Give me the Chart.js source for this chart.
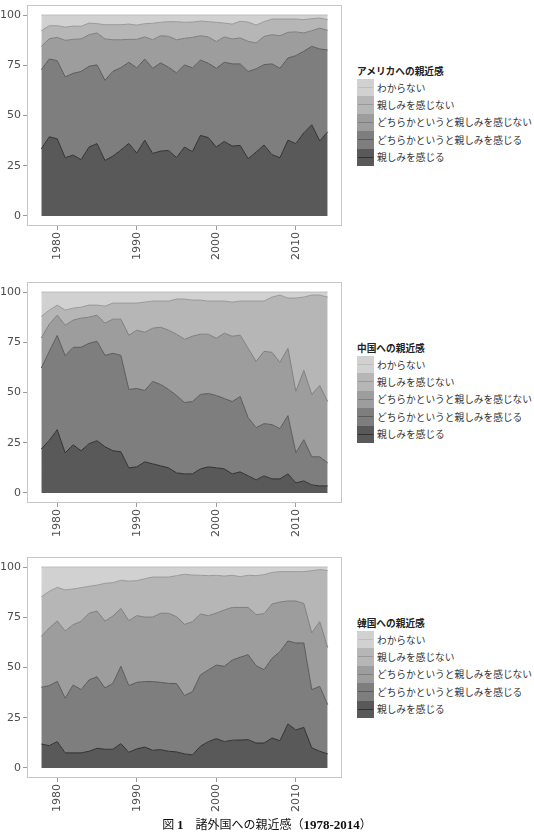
<!DOCTYPE html>
<html lang="ja">
<head>
<meta charset="utf-8">
<title>諸外国への親近感</title>
<script src="https://cdn.jsdelivr.net/npm/chart.js@4.4.1/dist/chart.umd.min.js"></script>
<style>
  html, body { margin: 0; padding: 0; background: #fff; }
  #page { position: relative; width: 534px; height: 838px; overflow: hidden; }
  canvas { position: absolute; left: 0; }
  .legend {
    position: absolute; left: 357px;
    font-family: "Noto Sans CJK JP", sans-serif; font-size: 9.7px; color: #333;
  }
  .legend .lt { font-weight: bold; height: 14px; line-height: 14px; margin-bottom: 1px; color: #222; white-space: nowrap; }
  .legend .li { height: 17.4px; display: flex; align-items: center; white-space: nowrap; }
  .legend .key { position: relative; width: 17px; height: 17.4px; margin-right: 3px; flex: none; }
  .legend .key i { position: absolute; left: 1px; right: 1px; top: 8px; height: 1px; }
  #caption {
    position: absolute; top: 815px; left: 0; width: 534px; text-align: center;
    font-family: "Noto Sans CJK JP", sans-serif; font-size: 12px; line-height: 18px; color: #111;
  }
  #caption b { font-family: "Liberation Serif", serif; font-weight: bold; font-size: 13px; }
</style>
</head>
<body>
<div id="page">
  <canvas id="usa" width="346" height="266" style="top:0px"></canvas>
  <div class="legend" id="usaLegend" style="top:64px"></div>
  <canvas id="china" width="346" height="266" style="top:277px"></canvas>
  <div class="legend" id="chinaLegend" style="top:341px"></div>
  <canvas id="korea" width="346" height="266" style="top:552px"></canvas>
  <div class="legend" id="koreaLegend" style="top:616px"></div>
  <div id="caption">図 <b>1</b>　諸外国への親近感（<b>1978-2014</b>）</div>
</div>
<script>
// survey years
const years = [1978, 1979, 1980, 1981, 1982, 1983, 1984, 1985, 1986, 1987,
               1988, 1989, 1990, 1991, 1992, 1993, 1994, 1995, 1996, 1997,
               1998, 1999, 2000, 2001, 2002, 2003, 2004, 2005, 2006, 2007,
               2008, 2009, 2010, 2011, 2012, 2013, 2014];

// stacking order, bottom to top
const categories = ['親しみを感じる', 'どちらかというと親しみを感じる',
                    'どちらかというと親しみを感じない', '親しみを感じない', 'わからない'];

const xTicks = [1980, 1990, 2000, 2010];
const yTicks = [0, 25, 50, 75, 100];

// アメリカ (%)
const usaClose       = [33.4,39.4,38.4,29.0,30.3,28.0,34.3,36.0,27.6,29.8, 32.8,36.1,31.3,37.7,31.1,32.3,32.6,29.1,34.3,32.0, 40.1,39.0,34.3,37.1,34.8,35.1,28.5,31.8,35.3,30.5, 29.0,37.7,36.0,41.4,45.4,37.3,41.9];
const usaRatherClose = [39.4,38.7,38.9,40.2,40.7,43.9,40.2,39.2,39.9,42.2, 41.0,40.4,42.4,40.4,42.4,43.9,41.4,42.1,40.9,41.7, 37.5,37.0,39.2,39.4,40.9,40.6,43.4,41.4,40.0,45.2, 44.5,40.9,43.8,40.6,39.0,45.8,40.7];
const usaRatherNot   = [11.6,10.1,11.6,18.2,16.9,16.2,15.7,15.9,20.6,15.7, 13.9,11.4,14.2,11.0,14.2,13.5,15.4,16.5,13.2,15.2, 12.1,13.1,13.3,12.6,12.4,12.9,15.0,12.9,14.1,14.5, 16.2,12.8,11.8,9.1,7.8,10.4,9.8];
const usaNot         = [7.8,6.5,5.8,6.6,6.6,6.3,5.8,4.6,7.1,7.5, 7.5,7.6,7.1,6.6,8.2,6.7,7.3,9.0,8.0,7.6, 7.3,7.6,9.6,6.9,7.4,8.3,9.6,8.9,7.3,7.8, 8.3,6.6,6.4,6.6,6.0,5.0,5.3];
const usaDontKnow    = [7.8,5.3,5.3,6.0,5.5,5.6,4.0,4.3,4.8,4.8, 4.8,4.5,5.0,4.3,4.1,3.6,3.3,3.3,3.6,3.5, 3.0,3.3,3.6,4.0,4.5,3.1,3.5,5.0,3.3,2.0, 2.0,2.0,2.0,2.3,1.8,1.5,2.3];

// 中国 (%)
const chinaClose       = [21.9,26.2,31.5,19.9,24.0,21.0,24.5,26.0,23.0,21.0, 20.5,12.5,13.0,15.5,14.5,13.5,12.5,10.0,9.5,9.5, 12.0,13.0,12.5,12.0,9.5,10.5,8.5,6.5,8.5,7.0, 7.0,9.5,5.0,6.0,4.0,3.5,3.5];
const chinaRatherClose = [40.3,44.3,46.9,48.4,48.5,51.5,50.0,49.5,45.5,48.5, 48.0,39.0,39.0,35.5,41.0,40.5,39.0,38.5,35.5,36.0, 37.0,36.5,36.0,35.0,36.0,37.5,29.0,26.0,26.0,27.0, 25.0,29.0,15.0,20.5,14.0,14.5,11.5];
const chinaRatherNot   = [14.9,13.5,10.1,15.2,13.5,14.5,13.0,13.0,16.0,17.0, 18.0,27.0,29.0,29.0,26.5,28.5,29.5,30.5,31.5,32.5, 30.0,29.5,28.5,32.5,32.5,30.5,34.5,33.0,36.0,36.0, 33.0,33.5,30.5,34.5,31.0,35.5,30.5];
const chinaNot         = [10.8,7.0,5.0,7.5,6.0,5.5,6.0,5.0,8.5,8.0, 8.0,16.0,13.5,15.0,13.5,13.0,14.5,17.5,20.0,18.0, 17.0,16.5,18.5,16.0,17.0,17.0,23.5,30.0,25.0,27.5, 33.5,25.0,46.5,36.5,49.5,45.0,52.0];
const chinaDontKnow    = [12.1,9.0,6.5,9.0,8.0,7.5,6.5,6.5,7.0,5.5, 5.5,5.5,5.5,5.0,4.5,4.5,4.5,3.5,3.5,4.0, 4.0,4.5,4.5,4.5,5.0,4.5,4.5,4.5,4.5,2.5, 1.5,3.0,3.0,2.5,1.5,1.5,2.5];

// 韓国 (%)
const koreaClose       = [11.9,11.1,13.1,7.5,7.5,7.5,8.3,9.8,9.3,9.3, 12.1,7.8,9.5,10.4,8.8,9.1,8.3,8.0,7.0,6.5, 10.8,13.1,14.6,13.1,13.8,13.9,14.1,12.4,12.4,14.9, 13.6,21.9,18.9,20.2,10.0,8.3,7.0];
const koreaRatherClose = [28.2,29.9,30.0,27.2,33.8,31.5,35.5,35.6,30.5,32.8, 38.5,33.2,33.1,32.6,34.2,33.5,33.8,34.0,29.0,31.5, 35.5,35.7,36.6,37.5,39.9,41.2,42.3,38.5,36.5,39.7, 44.3,41.3,43.3,42.0,29.0,32.3,24.5];
const koreaRatherNot   = [25.4,28.7,30.0,33.5,30.0,34.0,33.2,32.7,33.3,33.5, 28.8,32.3,33.2,32.1,32.1,34.4,34.9,33.3,35.5,34.8, 30.3,27.0,25.9,28.0,26.2,24.8,23.5,25.4,27.9,27.0, 24.7,19.9,20.9,19.7,28.2,32.2,28.4];
const koreaNot         = [19.7,18.2,16.8,20.4,17.8,16.7,13.4,12.9,18.8,16.6, 14.0,19.7,17.4,19.1,19.9,18.0,18.0,20.4,24.9,23.2, 19.3,19.9,18.8,16.9,16.0,15.3,16.0,19.4,19.4,15.7, 15.1,14.6,14.6,15.8,31.0,25.9,38.4];
const koreaDontKnow    = [14.8,12.1,10.1,11.4,10.9,10.3,9.6,9.0,8.1,7.8, 6.6,7.0,6.8,5.8,5.0,5.0,5.0,4.3,3.6,4.0, 4.1,4.3,4.1,4.5,4.1,4.8,4.1,4.3,3.8,2.7, 2.3,2.3,2.3,2.3,1.8,1.3,1.7];

// grey scale, dark at the bottom
const fillColors = ['#595959', '#7e7e7e', '#9d9d9d', '#b6b6b6', '#d1d1d1'];
const lineColors = ['#303030', '#5a5a5a', '#7e7e7e', '#999999', '#bdbdbd'];

Chart.defaults.font.family = 'DejaVu Sans';
Chart.defaults.font.size = 11;
Chart.defaults.color = '#4d4d4d';

// light grey frame around the plotting panel
const panelBorder = {
  id: 'panelBorder',
  afterDatasetsDraw(chart) {
    const { ctx, chartArea: a } = chart;
    ctx.save();
    ctx.strokeStyle = '#c6c6c6';
    ctx.lineWidth = 1;
    ctx.strokeRect(a.left + 0.5, a.top + 0.5, a.width - 1, a.height - 1);
    ctx.restore();
  }
};

function buildLegend(el, title, datasets) {
  let html = '<div class="lt">' + title + '</div>';
  datasets.slice().reverse().forEach(ds => {
    html += '<div class="li"><span class="key" style="background:' + ds.backgroundColor + '">' +
            '<i style="background:' + ds.borderColor + '"></i></span><span>' + ds.label + '</span></div>';
  });
  el.innerHTML = html;
}

function makeChart(id, title, series) {
  const datasets = series.map((vals, i) => ({
    label: categories[i],
    data: years.map((yr, j) => ({ x: yr, y: vals[j] })),
    backgroundColor: fillColors[i],
    borderColor: lineColors[i],
    borderWidth: 1,
    pointRadius: 0,
    tension: 0,
    fill: i === 0 ? 'origin' : '-1'
  }));

  const chart = new Chart(document.getElementById(id), {
    type: 'line',
    data: { datasets: datasets },
    options: {
      responsive: false,
      animation: false,
      layout: { padding: { top: 5, right: 4, left: 0, bottom: 0 } },
      plugins: { legend: { display: false }, tooltip: { enabled: false } },
      scales: {
        x: {
          type: 'linear', min: 1976.2, max: 2015.8,
          afterBuildTicks: s => { s.ticks = xTicks.map(v => ({ value: v })); },
          afterFit: s => { s.height = 40; s.paddingLeft = 0; s.paddingRight = 0; },
          ticks: { minRotation: 90, maxRotation: 90, padding: 2, callback: v => String(v) },
          grid: { drawOnChartArea: false, tickLength: 4, color: '#9a9a9a' },
          border: { display: false }
        },
        y: {
          stacked: true, min: -5, max: 105,
          afterBuildTicks: s => { s.ticks = yTicks.map(v => ({ value: v })); },
          afterFit: s => { s.width = 27; s.paddingTop = 0; s.paddingBottom = 0; },
          ticks: { padding: 2, callback: v => String(v) },
          grid: { drawOnChartArea: false, tickLength: 4, color: '#9a9a9a' },
          border: { display: false }
        }
      }
    },
    plugins: [panelBorder]
  });

  buildLegend(document.getElementById(id + 'Legend'), title, chart.data.datasets);
  return chart;
}

makeChart('usa', 'アメリカへの親近感', [usaClose, usaRatherClose, usaRatherNot, usaNot, usaDontKnow]);
makeChart('china', '中国への親近感', [chinaClose, chinaRatherClose, chinaRatherNot, chinaNot, chinaDontKnow]);
makeChart('korea', '韓国への親近感', [koreaClose, koreaRatherClose, koreaRatherNot, koreaNot, koreaDontKnow]);
</script>
</body>
</html>
